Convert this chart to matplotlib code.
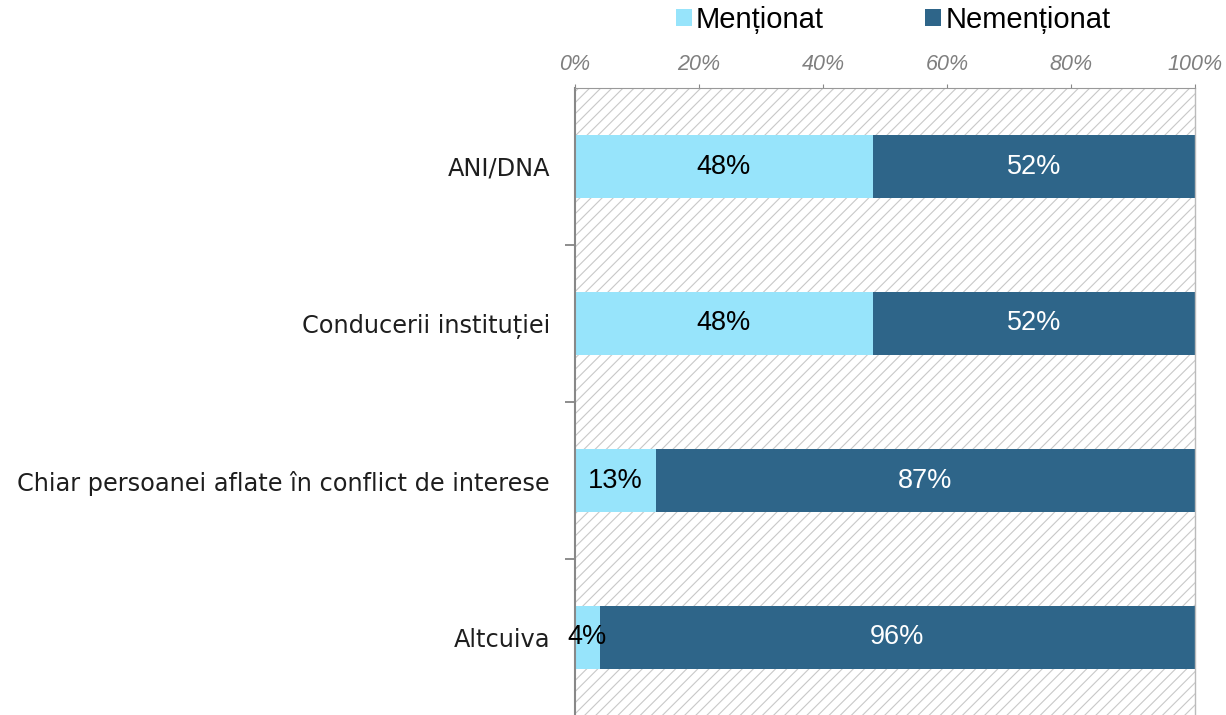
import matplotlib
matplotlib.use("Agg")
import matplotlib.pyplot as plt
from matplotlib.patches import Rectangle
from matplotlib.ticker import FixedLocator, PercentFormatter

categories = ["ANI/DNA", "Conducerii instituției",
              "Chiar persoanei aflate în conflict de interese", "Altcuiva"]
mentionat = [48, 48, 13, 4]
nementionat = [52, 52, 87, 96]
series_names = ["Menționat", "Nemenționat"]
xticks = [0, 20, 40, 60, 80, 100]

c_light = "#97E4FB"
c_dark = "#2E6589"

plt.rcParams["hatch.linewidth"] = 0.8
fig = plt.figure(figsize=(12.26, 7.15), dpi=100)
ax = fig.add_axes([575/1226, (715-716)/715, 620/1226, 628/715])

ax.add_patch(Rectangle((0, 0), 1, 1, transform=ax.transAxes, facecolor="white",
                       edgecolor="#C8C8C8", hatch="///", linewidth=0, zorder=0))

y = list(range(len(categories)))
b1 = ax.barh(y, mentionat, height=0.4, color=c_light, label=series_names[0], zorder=2)
b2 = ax.barh(y, nementionat, left=mentionat, height=0.4, color=c_dark,
             label=series_names[1], zorder=2)

for rect, v in zip(b1, mentionat):
    ax.text(rect.get_x() + rect.get_width()/2, rect.get_y() + rect.get_height()/2,
            f"{v}%", ha="center", va="center", fontsize=19.5, color="black",
            family="Liberation Sans", zorder=3)
for rect, v in zip(b2, nementionat):
    ax.text(rect.get_x() + rect.get_width()/2, rect.get_y() + rect.get_height()/2,
            f"{v}%", ha="center", va="center", fontsize=19.5, color="white",
            family="Liberation Sans", zorder=3)

ax.set_xlim(0, 100)
ax.set_ylim(len(categories) - 0.5, -0.5)
ax.xaxis.tick_top()
ax.set_xticks(xticks)
ax.xaxis.set_major_formatter(PercentFormatter(decimals=0))
ax.tick_params(axis="x", which="major", length=3, color="#888888", pad=6,
               labelsize=15.5, labelcolor="#7F7F7F")
for lab in ax.get_xticklabels():
    lab.set_fontstyle("italic")
    lab.set_family("Liberation Sans")

ax.set_yticks(y)
ax.set_yticklabels(categories, family="DejaVu Sans")
ax.yaxis.set_minor_locator(FixedLocator([0.5, 1.5, 2.5]))
ax.tick_params(axis="y", which="major", length=0, pad=18, labelsize=17.3,
               labelcolor="#1E1E1E")
ax.tick_params(axis="y", which="minor", length=7, width=1.2, color="#7A7A7A")

ax.spines["left"].set_color("#888888")
ax.spines["left"].set_linewidth(1.5)
ax.spines["right"].set_color("#BBBBBB")
ax.spines["right"].set_linewidth(1.0)
ax.spines["top"].set_color("#999999")
ax.spines["top"].set_linestyle((0, (1, 1)))
ax.spines["bottom"].set_visible(False)
ax.set_facecolor("none")

leg = fig.legend(handles=[b1, b2], labels=series_names, loc="center",
                 bbox_to_anchor=(893/1226, 1 - 20/715), ncol=2, frameon=False,
                 prop={"family": "Liberation Sans", "size": 21},
                 handlelength=0.55, handleheight=0.55, handletextpad=0.15,
                 columnspacing=3.45)

fig.savefig("out.png", dpi=100)
